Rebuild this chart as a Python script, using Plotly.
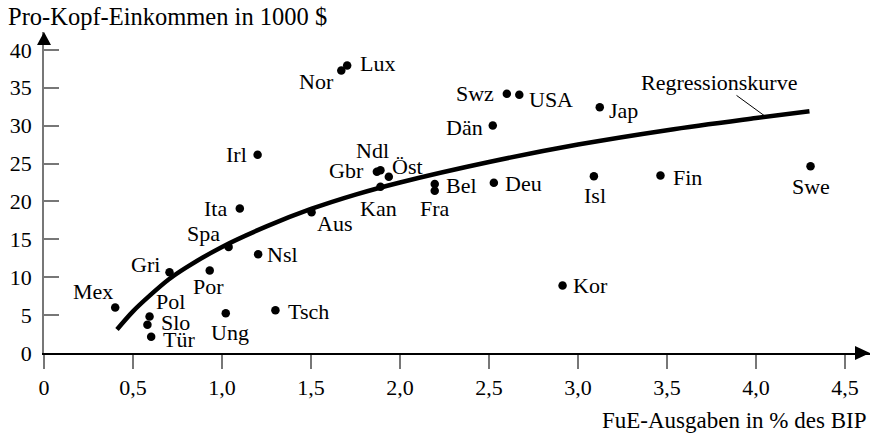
import plotly.graph_objects as go

# Länderdaten: FuE-Ausgaben (% des BIP) und Pro-Kopf-Einkommen (1000 $)
countries = ["Mex", "Gri", "Pol", "Slo", "Tür", "Spa", "Por", "Ung", "Tsch", "Nsl",
             "Ita", "Aus", "Irl", "Nor", "Lux", "Gbr", "Ndl", "Öst", "Kan", "Bel",
             "Fra", "Deu", "Dän", "Swz", "USA", "Jap", "Isl", "Fin", "Swe", "Kor"]
rd_share = [0.40, 0.705, 0.593, 0.581, 0.602, 1.037, 0.931, 1.021, 1.30, 1.203,
            1.10, 1.503, 1.20, 1.67, 1.703, 1.87, 1.89, 1.937, 1.89, 2.195,
            2.195, 2.527, 2.521, 2.60, 2.67, 3.122, 3.089, 3.463, 4.306, 2.913]
income = [6.0, 10.66, 4.82, 3.72, 2.14, 14.0, 10.88, 5.25, 5.65, 13.03,
          19.06, 18.58, 26.15, 37.27, 37.93, 23.9, 24.1, 23.25, 21.93, 22.3,
          21.4, 22.45, 30.0, 34.2, 34.06, 32.43, 23.32, 23.42, 24.64, 8.9]

curve_x = [0.41, 0.5, 0.6, 0.7, 0.8, 1.0, 1.25, 1.5, 1.75, 2.0, 2.5, 3.0, 3.5, 4.0, 4.3]
curve_y = [3.1, 5.5, 7.7, 9.7, 11.3, 14.0, 16.7, 19.0, 20.9, 22.5, 25.2, 27.5, 29.4, 31.0, 31.9]

x_ticks = [0, 0.5, 1.0, 1.5, 2.0, 2.5, 3.0, 3.5, 4.0, 4.5]
x_ticktext = ["0", "0,5", "1,0", "1,5", "2,0", "2,5", "3,0", "3,5", "4,0", "4,5"]
y_ticks = [0, 5, 10, 15, 20, 25, 30, 35, 40]
y_ticktext = ["0", "5", "10", "15", "20", "25", "30", "35", "40"]

# Beschriftungsversatz je Land in Pixeln (dx nach rechts, dy nach unten)
label_offset = {
    "Mex": (-22, -16), "Gri": (-24, -8), "Pol": (21, -15), "Slo": (28.5, -2.6),
    "Tür": (28, 3), "Spa": (-24.7, -13), "Por": (-1.5, 16), "Ung": (4, 19),
    "Tsch": (33, 1), "Nsl": (24.5, 0), "Ita": (-24, 0), "Aus": (23, 11.7),
    "Irl": (-21, 0), "Nor": (-25, 10.7), "Lux": (30, -2.3), "Gbr": (-30.3, -1.3),
    "Ndl": (-8, -20), "Öst": (18.5, -10), "Kan": (-2, 22), "Bel": (27, 2),
    "Fra": (0, 18), "Deu": (29.5, 1), "Dän": (-28.6, 1.7), "Swz": (-31.7, 0),
    "USA": (32, 5), "Jap": (24, 3), "Isl": (1, 19), "Fin": (27, 1.7),
    "Swe": (0, 20), "Kor": (28, 0),
}

FONT = "Liberation Serif"
FS = 22
GREY = "#777777"

fig = go.Figure()

fig.add_trace(go.Scatter(
    x=curve_x, y=curve_y, mode="lines", line_shape="spline",
    line=dict(color="black", width=4.5), hoverinfo="skip",
))

fig.add_trace(go.Scatter(
    x=rd_share, y=income, mode="markers",
    marker=dict(color="black", size=8.5), text=countries,
))

annotations = []
for name, xv, yv in zip(countries, rd_share, income):
    dx, dy = label_offset[name]
    annotations.append(dict(
        x=xv, y=yv, xref="x", yref="y", text=name, showarrow=False,
        xanchor="center", yanchor="middle", xshift=dx, yshift=-dy,
        font=dict(family=FONT, size=FS, color="black"),
    ))

# Beschriftung der Regressionskurve mit Hinweislinie
annotations.append(dict(
    x=4.05, y=31.25, xref="x", yref="y", ax=3.79, ay=35.7, axref="x", ayref="y",
    text="Regressionskurve", showarrow=True, arrowhead=0, arrowwidth=1,
    arrowcolor="black", standoff=0, borderpad=0,
    font=dict(family=FONT, size=FS, color="black"),
))

# Achsentitel
annotations.append(dict(
    x=-0.0466, y=1.047, xref="paper", yref="paper", xanchor="left", yanchor="middle",
    text="Pro-Kopf-Einkommen in 1000 $", showarrow=False,
    font=dict(family=FONT, size=24.5, color="black"),
))
annotations.append(dict(
    x=0.998, y=-0.21, xref="paper", yref="paper", xanchor="right", yanchor="middle",
    text="FuE-Ausgaben in % des BIP", showarrow=False,
    font=dict(family=FONT, size=23, color="black"),
))

# Pfeilspitzen an den Achsenenden
shapes = [
    dict(type="path", xref="paper", yref="paper", xsizemode="pixel", ysizemode="pixel",
         xanchor=1, yanchor=0, path="M -15,7 L 0,0 L -15,-7 Z",
         fillcolor="black", line=dict(width=0)),
    dict(type="path", xref="paper", yref="paper", xsizemode="pixel", ysizemode="pixel",
         xanchor=0, yanchor=1, path="M -7,-13 L 0,0 L 7,-13 Z",
         fillcolor="black", line=dict(width=0)),
]

fig.update_layout(
    width=871, height=433,
    margin=dict(l=44, r=1, t=32, b=80),
    paper_bgcolor="white", plot_bgcolor="white",
    showlegend=False,
    font=dict(family=FONT, size=FS, color="black"),
    annotations=annotations,
    shapes=shapes,
    xaxis=dict(
        range=[0, 4.64], showgrid=False, zeroline=False,
        showline=True, linecolor="black", linewidth=1.5,
        ticks="outside", ticklen=14, tickwidth=1.5, tickcolor=GREY,
        tickvals=x_ticks, ticktext=x_ticktext,
        tickfont=dict(family=FONT, size=FS, color="black"),
    ),
    yaxis=dict(
        range=[0, 42.35], showgrid=False, zeroline=False,
        showline=True, linecolor=GREY, linewidth=1.5,
        ticks="inside", ticklen=15, tickwidth=1.5, tickcolor=GREY,
        tickvals=y_ticks, ticktext=y_ticktext,
        tickfont=dict(family=FONT, size=FS, color="black"),
        ticklabelstandoff=6,
    ),
)

fig.write_html("out.html")
